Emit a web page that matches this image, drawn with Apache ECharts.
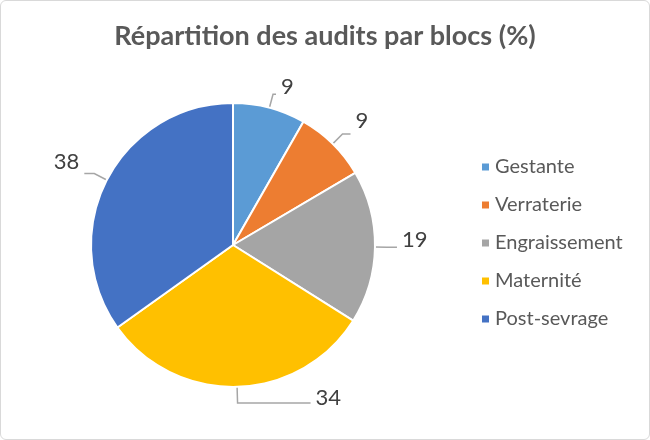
<!DOCTYPE html>
<html>
<head>
<meta charset="utf-8">
<script src="https://cdn.jsdelivr.net/npm/echarts@6/dist/echarts.min.js"></script>
<style>
html, body { margin: 0; padding: 0; background: #fff; }
#main {
    width: 648px;
    height: 438px;
    border: 1px solid #d9d9d9;
    border-radius: 6px;
    overflow: hidden;
}
</style>
</head>
<body>
<div id="main"></div>
<script>
const categories = ['Gestante', 'Verraterie', 'Engraissement', 'Maternité', 'Post-sevrage']
const values = [9, 9, 19, 34, 38]
const colors = ['#5b9bd5', '#ed7d31', '#a5a5a5', '#ffc000', '#4472c4']
// leader line lengths per slice (first segment, horizontal segment)
const lineLen = [14, 14, 12, 16, 14]
const lineLen2 = [3, 8, 10, 73, 10]
const labelShiftY = [-7, -13, -7, -5, -12]

const font = 'Lato, "Open Sans", sans-serif'

let option = {
    animation: false,
    color: colors,
    title: {
        text: 'Répartition des audits par blocs (%)',
        left: 'center',
        top: 17,
        textStyle: {
            fontFamily: font,
            fontSize: 27,
            fontWeight: 'bold',
            color: '#595959'
        }
    },
    legend: {
        orient: 'vertical',
        left: 474,
        top: 151,
        itemWidth: 9,
        itemHeight: 9,
        itemGap: 18,
        icon: 'rect',
        textStyle: {
            fontFamily: font,
            fontSize: 20,
            color: '#595959'
        },
        data: categories
    },
    series: [
        {
            type: 'pie',
            center: [232, 244],
            radius: [0, 142],
            startAngle: 90,
            clockwise: true,
            itemStyle: {
                borderColor: '#fff',
                borderWidth: 2
            },
            label: {
                show: true,
                formatter: '{c}',
                fontFamily: font,
                fontSize: 22,
                color: '#404040'
            },
            labelLine: {
                show: true,
                lineStyle: { color: '#a6a6a6', width: 1.5 }
            },
            labelLayout: function (params) {
                return { dy: labelShiftY[params.dataIndex] }
            },
            data: categories.map((name, i) => ({
                name: name,
                value: values[i],
                labelLine: { length: lineLen[i], length2: lineLen2[i] }
            }))
        }
    ]
};

var myChart = echarts.init(document.getElementById('main'));
option && myChart.setOption(option);
</script>
</body>
</html>
